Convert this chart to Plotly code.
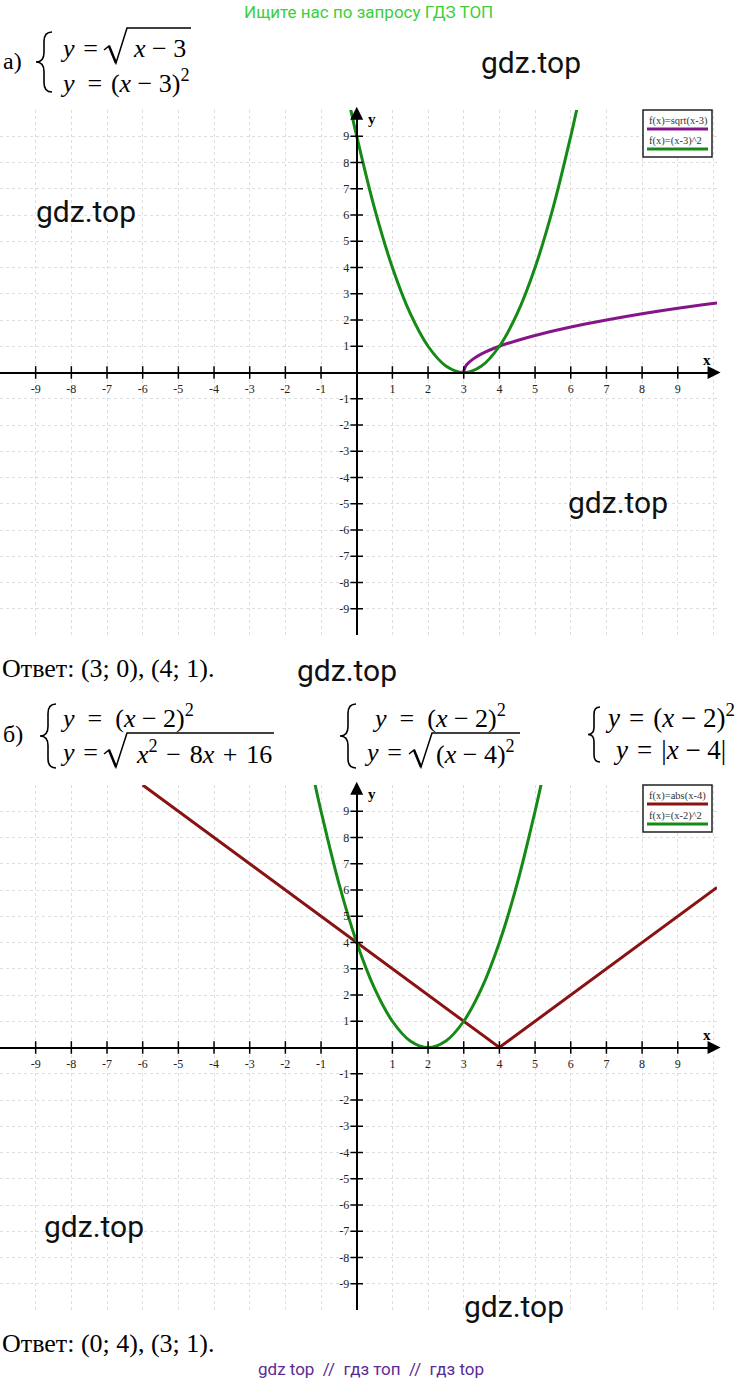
import plotly.graph_objects as go

W, H = 738, 1385

# ---------------- data ----------------
tick_vals = list(range(-10, 11))
tick_text = ["" if v in (-10, 0, 10) else str(v) for v in tick_vals]
mark_vals = [v for v in range(-9, 10) if v != 0]

# chart a: y = sqrt(x-3), y = (x-3)^2
sqrt_x = [3, 3.01, 3.04, 3.1, 3.25, 3.5, 4, 4.5, 5, 6, 7, 8, 9, 10.1]
sqrt_y = [0, 0.1, 0.2, 0.32, 0.5, 0.71, 1, 1.22, 1.41, 1.73, 2, 2.24, 2.45, 2.65]
para_a_x = [-0.17, 0, 0.5, 1, 1.5, 2, 2.5, 3, 3.5, 4, 4.5, 5, 5.5, 6, 6.17]
para_a_y = [10.03, 9, 6.25, 4, 2.25, 1, 0.25, 0, 0.25, 1, 2.25, 4, 6.25, 9, 10.03]

# chart b: y = |x-4|, y = (x-2)^2
abs_x = [-6, 4, 10.1]
abs_y = [10, 0, 6.1]
para_b_x = [-1.17, -1, -0.5, 0, 0.5, 1, 1.5, 2, 2.5, 3, 3.5, 4, 4.5, 5, 5.17]
para_b_y = [10.03, 9, 6.25, 4, 2.25, 1, 0.25, 0, 0.25, 1, 2.25, 4, 6.25, 9, 10.03]

legend_a = ["f(x)=sqrt(x-3)", "f(x)=(x-3)^2"]
legend_b = ["f(x)=abs(x-4)", "f(x)=(x-2)^2"]

GREEN = "#168a16"
PURPLE = "#85168a"
RED = "#8a1212"

# ---------------- helpers ----------------
def px(x):
    return x / W


def py(y):
    return 1 - y / H


X_RANGE = [-10, 10.1]
Y_RANGE = [-10, 10]
X_DOM = [0, 717 / W]
YA_DOM = [py(635), py(110)]
YB_DOM = [py(1310), py(785)]
x0_paper = X_DOM[0] + (0 - X_RANGE[0]) / (X_RANGE[1] - X_RANGE[0]) * (X_DOM[1] - X_DOM[0])
ya0_paper = (YA_DOM[0] + YA_DOM[1]) / 2
yb0_paper = (YB_DOM[0] + YB_DOM[1]) / 2

SERIF = "Liberation Serif"
EN = "\u2002"
TH = "\u2004"

fig = go.Figure()


def add_chart(xa, ya, curves):
    for cx, cy, col, shp in curves:
        fig.add_trace(go.Scatter(x=cx, y=cy, mode="lines", xaxis=xa, yaxis=ya,
                                 line=dict(color=col, width=3, shape=shp),
                                 showlegend=False, hoverinfo="skip"))
    fig.add_trace(go.Scatter(x=mark_vals, y=[0] * len(mark_vals), mode="markers",
                             xaxis=xa, yaxis=ya, showlegend=False, hoverinfo="skip",
                             marker=dict(symbol="line-ns", size=9, line=dict(width=1.5, color="black"))))
    fig.add_trace(go.Scatter(x=[0] * len(mark_vals), y=mark_vals, mode="markers",
                             xaxis=xa, yaxis=ya, showlegend=False, hoverinfo="skip",
                             marker=dict(symbol="line-ew", size=9, line=dict(width=1.5, color="black"))))


add_chart("x", "y", [(sqrt_x, sqrt_y, PURPLE, "spline"), (para_a_x, para_a_y, GREEN, "spline")])
add_chart("x2", "y2", [(abs_x, abs_y, RED, "linear"), (para_b_x, para_b_y, GREEN, "spline")])

axis_common = dict(showline=True, linecolor="black", linewidth=2, zeroline=False,
                   showgrid=True, gridcolor="#dedede", griddash="dot", gridwidth=1,
                   tickmode="array", tickvals=tick_vals, ticktext=tick_text, ticks="",
                   tickfont=dict(family=SERIF, size=12, color="#222"), fixedrange=True)

fig.update_layout(
    width=W, height=H, margin=dict(l=0, r=0, t=0, b=0),
    paper_bgcolor="white", plot_bgcolor="white",
    xaxis=dict(domain=X_DOM, range=X_RANGE, anchor="free", position=ya0_paper,
               ticklabelstandoff=5, **axis_common),
    yaxis=dict(domain=YA_DOM, range=Y_RANGE, anchor="free", position=x0_paper,
               ticklabelstandoff=4, **axis_common),
    xaxis2=dict(domain=X_DOM, range=X_RANGE, anchor="free", position=yb0_paper,
                ticklabelstandoff=5, **axis_common),
    yaxis2=dict(domain=YB_DOM, range=Y_RANGE, anchor="free", position=x0_paper,
                ticklabelstandoff=4, **axis_common),
)

anns = []
shapes = []

# axis arrows
for xr, yr in (("x", "y"), ("x2", "y2")):
    anns.append(dict(x=10.2, y=0, xref=xr, yref=yr, ax=9.8, ay=0, axref=xr, ayref=yr,
                     showarrow=True, arrowhead=2, arrowsize=1.3, arrowwidth=2,
                     arrowcolor="black", text=""))
    anns.append(dict(x=0, y=10.12, xref=xr, yref=yr, ax=0, ay=9.7, axref=xr, ayref=yr,
                     showarrow=True, arrowhead=2, arrowsize=1.3, arrowwidth=2,
                     arrowcolor="black", text=""))


def txt(text, x, y, size, family=SERIF, color="black", xanchor="left", bold=False):
    if bold:
        text = "<b>" + text + "</b>"
    anns.append(dict(text=text, x=px(x), y=py(y), xref="paper", yref="paper",
                     xanchor=xanchor, yanchor="middle", showarrow=False,
                     font=dict(family=family, size=size, color=color)))


def hline(x0, x1, y, color="black", width=1.5):
    shapes.append(dict(type="line", xref="paper", yref="paper", x0=px(x0), x1=px(x1),
                       y0=py(y), y1=py(y), line=dict(color=color, width=width)))


def path(points_cmds, width=1.5):
    s = ""
    for cmd, pts in points_cmds:
        s += cmd + " " + " ".join("%.5f,%.5f" % (px(a), py(b)) for a, b in pts) + " "
    shapes.append(dict(type="path", xref="paper", yref="paper", path=s.strip(),
                       line=dict(color="black", width=width)))


def brace(xl, xr, yt, yb, width=1.6):
    xs = (xl + xr) / 2
    ym = (yt + yb) / 2
    r = (xr - xl) * 0.6
    path([("M", [(xr, yt)]), ("Q", [(xs, yt), (xs, yt + r)]), ("L", [(xs, ym - r)]),
          ("Q", [(xs, ym), (xl, ym)]), ("Q", [(xs, ym), (xs, ym + r)]),
          ("L", [(xs, yb - r)]), ("Q", [(xs, yb), (xr, yb)])], width)


def radical(x0, yc, x1, top, bottom):
    path([("M", [(x0, yc + 2)]), ("L", [(x0 + 5, yc - 2)]), ("L", [(x0 + 12, bottom)]),
          ("L", [(x0 + 23, top)]), ("L", [(x1, top)])], 1.5)
    path([("M", [(x0 + 5, yc - 2)]), ("L", [(x0 + 12, bottom)])], 2.5)


# axis names
for yoff in (0, 675):
    txt("y", 366, 119 + yoff, 15, bold=True)
    txt("x", 701, 360 + yoff, 15, bold=True)


# legends
def legend_box(top, labels, colors):
    shapes.append(dict(type="rect", xref="paper", yref="paper", x0=px(643), x1=px(712),
                       y0=py(top + 47), y1=py(top), line=dict(color="#222", width=1.5),
                       fillcolor="white"))
    for i, (lab, col) in enumerate(zip(labels, colors)):
        txt(lab, 647, top + 11 + i * 20, 10.5, color="#333")
        hline(647, 708, top + 19 + i * 20, col, 3)


legend_box(110, legend_a, [PURPLE, GREEN])
legend_box(785, legend_b, [RED, GREEN])

# header / footer
txt("Ищите нас по запросу ГДЗ ТОП", 368, 12, 17, family="Roboto", color="#3ccf3c", xanchor="center")
txt("gdz top  //  гдз топ  //  гдз top", 371, 1369, 17, family="Roboto", color="#5b2b95", xanchor="center")

# watermarks
for (wx, wy) in [(531, 63), (86, 212), (618, 502), (347, 670), (94, 1226), (514, 1306)]:
    txt("gdz.top", wx, wy, 30, family="Roboto", color="#111", xanchor="center")

# equations a
txt("а)", 1, 61, 24)
brace(36, 52, 32, 92)
txt("<i>y</i>" + TH + "=", 58, 48, 26)
radical(104, 48, 191, 28, 63)
txt("<i>x</i> − 3", 131, 48, 26)
txt("<i>y</i>" + EN + "=" + TH + "(<i>x</i> − 3)<sup>2</sup>", 58, 82, 26)

txt("Ответ: (3; 0), (4; 1).", 0, 668, 26)

# equations b
txt("б)", 1, 734, 24)
brace(40, 56, 704, 768)
txt("<i>y</i>" + EN + "=" + EN + "(<i>x</i> − 2)<sup>2</sup>", 58, 716, 26)
txt("<i>y</i>" + TH + "=", 58, 752, 26)
radical(104, 752, 274, 733, 767)
txt("<i>x</i><sup>2</sup>" + TH + "−" + TH + "8<i>x</i>" + TH + "+" + TH + "16", 134, 752, 26)

brace(340, 356, 704, 768)
txt("<i>y</i>" + EN + "=" + EN + "(<i>x</i> − 2)<sup>2</sup>", 370, 716, 26)
txt("<i>y</i>" + TH + "=", 362, 752, 26)
radical(409, 752, 520, 733, 767)
txt("(<i>x</i> − 4)<sup>2</sup>", 434, 752, 26)

brace(588, 600, 707, 762)
txt("<i>y</i>" + TH + "=" + TH + "(<i>x</i> − 2)<sup>2</sup>", 603, 716, 27)
txt("<i>y</i>" + TH + "=" + TH + "|<i>x</i> − 4|", 611, 750, 27)

txt("Ответ: (0; 4), (3; 1).", 0, 1343, 26)

fig.update_layout(annotations=anns, shapes=shapes)
fig.write_html("out.html", config={"displayModeBar": False},
               post_script="document.body.style.margin='0';")
